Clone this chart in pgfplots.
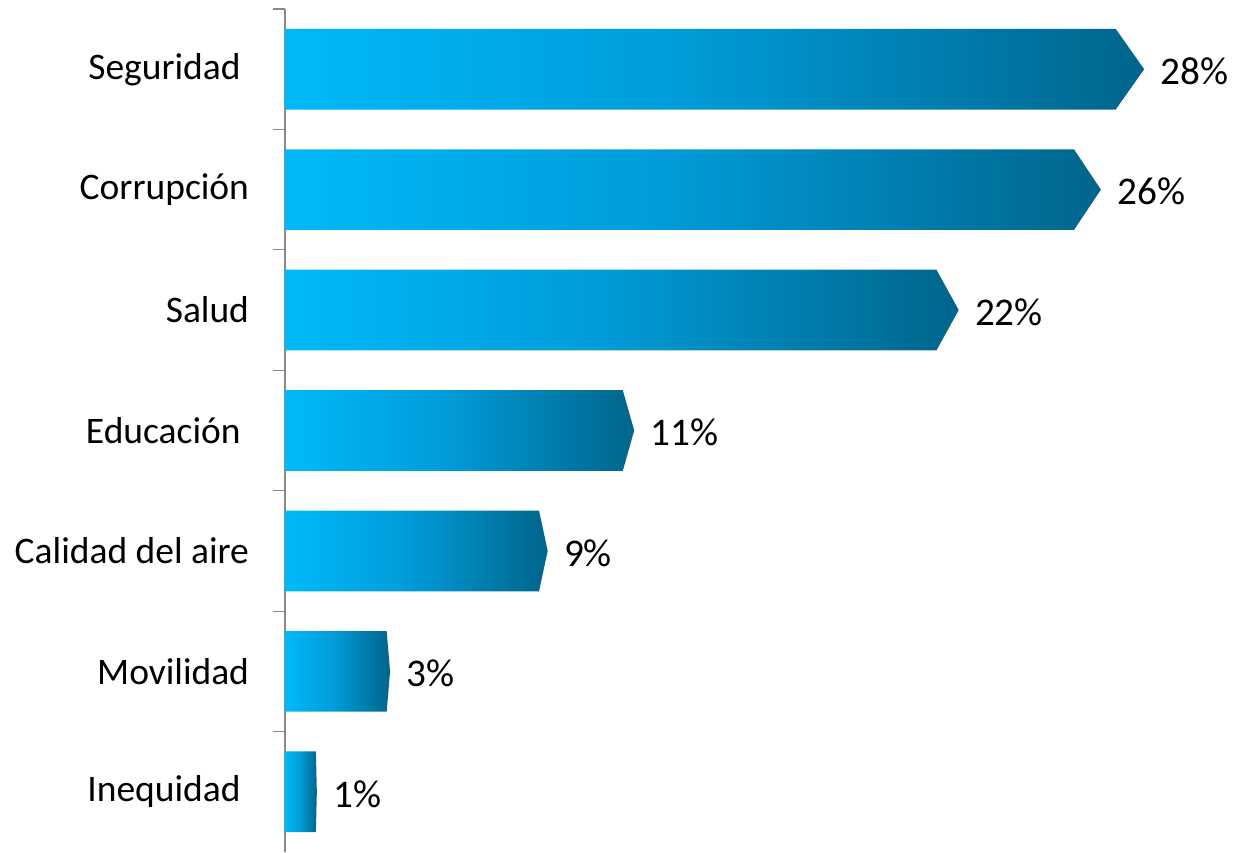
\documentclass[border=0pt]{standalone}
\usepackage{fontspec}
\setmainfont{Carlito}
\usepackage{pgfplots}
\usepackage{pgfplotstable}
\pgfplotsset{compat=1.18}
\definecolor{cA}{RGB}{0,185,247}
\definecolor{cB}{RGB}{0,157,219}
\definecolor{cC}{RGB}{0,101,140}
\definecolor{axgray}{RGB}{137,137,137}
\pgfdeclarehorizontalshading{barshade}{100bp}{color(0bp)=(cA); color(25bp)=(cA); color(47.5bp)=(cB); color(75bp)=(cC); color(100bp)=(cC)}
\pgfplotstableread{
p v lab
6 27.8 28
5 26.4 26
4 21.8 22
3 11.3 11
2 8.5 9
1 3.4 3
0 1.03 1
}\datatable
\begin{document}
\fontsize{18.75}{22}\selectfont
\begin{tikzpicture}
\begin{axis}[
  scale only axis,
  width=475pt, height=421.5pt,
  xmin=0, xmax=30.74,
  ymin=-0.5, ymax=6.5,
  axis y line*=left,
  axis x line=none,
  xtick=\empty,
  ytick={0,...,6},
  yticklabels={Inequidad\hspace*{4.2pt}, Movilidad, Calidad del aire, Educación\hspace*{4.2pt}, Salud, Corrupción, Seguridad\hspace*{4.2pt}},
  minor ytick={0.5,1.5,...,6.5},
  major tick length=0pt,
  minor tick length=6pt,
  tick align=outside,
  every tick/.style={axgray, line width=0.6pt},
  axis line style={axgray, line width=0.75pt, -},
  yticklabel style={inner sep=0pt, xshift=-17.8pt, anchor=east},
  clip=false,
]
\addplot[draw=none, shade, shading=barshade, mark=none] coordinates {(0,5.665) (26.88,5.665) (27.8,6) (26.88,6.335) (0,6.335) (0,5.665)};
\addplot[draw=none, shade, shading=barshade, mark=none] coordinates {(0,4.665) (25.53,4.665) (26.4,5) (25.53,5.335) (0,5.335) (0,4.665)};
\addplot[draw=none, shade, shading=barshade, mark=none] coordinates {(0,3.665) (21.08,3.665) (21.8,4) (21.08,4.335) (0,4.335) (0,3.665)};
\addplot[draw=none, shade, shading=barshade, mark=none] coordinates {(0,2.665) (10.93,2.665) (11.3,3) (10.93,3.335) (0,3.335) (0,2.665)};
\addplot[draw=none, shade, shading=barshade, mark=none] coordinates {(0,1.665) (8.22,1.665) (8.5,2) (8.22,2.335) (0,2.335) (0,1.665)};
\addplot[draw=none, shade, shading=barshade, mark=none] coordinates {(0,0.665) (3.29,0.665) (3.4,1) (3.29,1.335) (0,1.335) (0,0.665)};
\addplot[draw=none, shade, shading=barshade, mark=none] coordinates {(0,-0.335) (1.0,-0.335) (1.03,0) (1.0,0.335) (0,0.335) (0,-0.335)};
\addplot[draw=none, mark=none, only marks, point meta=explicit symbolic,
  nodes near coords={\pgfplotspointmeta\%},
  nodes near coords style={anchor=west, inner sep=0pt, xshift=8pt, yshift=-1pt, text=black, font=\fontsize{19.6}{22}\selectfont}]
  table[x=v, y=p, meta=lab] {\datatable};
\coordinate (bl) at (rel axis cs:0,0);
\coordinate (tr) at (rel axis cs:1,1);
\end{axis}
\pgfresetboundingbox
\path ([xshift=-142.5pt]bl) rectangle ([yshift=4.5pt]tr);
\end{tikzpicture}
\end{document}
